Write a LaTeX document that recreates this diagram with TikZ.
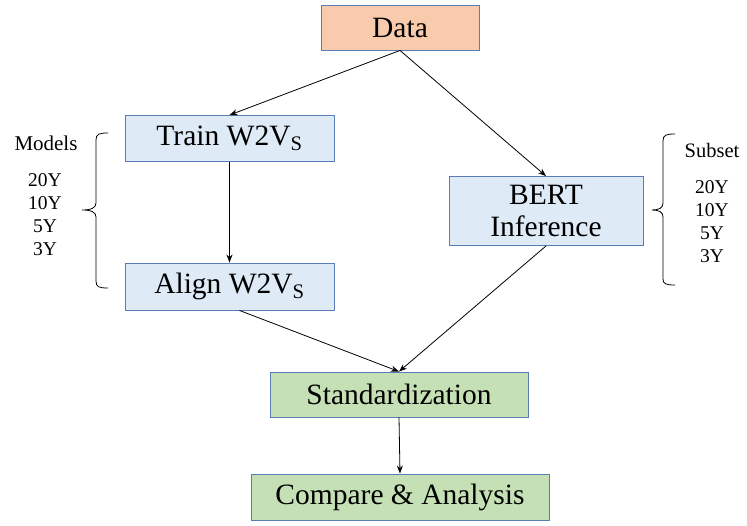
\documentclass[tikz,border=0pt]{standalone}
\usepackage{fontspec}
\setmainfont{Liberation Serif}
\usetikzlibrary{arrows.meta}
\definecolor{peach}{HTML}{F8CBAD}
\definecolor{lblue}{HTML}{DEEBF7}
\definecolor{lgreen}{HTML}{C5E0B4}
\definecolor{bord}{HTML}{5B7DB5}
\tikzset{
  box/.style={draw=bord, line width=0.9pt, inner sep=0pt, align=center,
    font=\fontsize{29.5}{31}\selectfont},
  arr/.style={-{Stealth[length=8pt,width=6pt]}, line width=0.8pt},
  side/.style={font=\fontsize{19.5}{23}\selectfont, align=center, inner sep=0pt},
  brc/.style={line width=0.8pt}
}
\begin{document}
\begin{tikzpicture}[x=1pt,y=-1pt]
\useasboundingbox (0,0) rectangle (747,525);
\node[box, fill=peach, minimum width=158pt, minimum height=45pt] (data) at (400,27.5) {Data};
\node[box, fill=lblue, minimum width=209pt, minimum height=46pt] (train) at (229.5,138.5) {Train W2V\textsubscript{S}};
\node[box, fill=lblue, minimum width=209pt, minimum height=47pt] (align) at (229.5,286.5) {Align W2V\textsubscript{S}};
\node[box, fill=lblue, minimum width=194pt, minimum height=69pt, font=\fontsize{29.5}{32}\selectfont] (bert) at (546,211) {BERT\\Inference};
\node[box, fill=lgreen, minimum width=258pt, minimum height=45pt] (std) at (399,394.5) {Standardization};
\node[box, fill=lgreen, minimum width=298pt, minimum height=46pt] (cmp) at (400,497) {Compare \& Analysis};

\draw[arr] (data.south) -- (train.north);
\draw[arr] (data.south) -- (bert.north);
\draw[arr] (train.south) -- (align.north);
\draw[arr] ([xshift=10pt]align.south) -- (std.north);
\draw[arr] (bert.south) -- (std.north);
\draw[arr] (std.south) -- (cmp.north);

\node[side, font=\fontsize{21}{23}\selectfont] (models) at (46,143) {Models};
\node[side] (lyears) at (45,215) {20Y\\10Y\\5Y\\3Y};
\node[side, font=\fontsize{20.5}{23}\selectfont] (subset) at (712,150) {Subset};
\node[side] (ryears) at (712,222) {20Y\\10Y\\5Y\\3Y};

\draw[brc] (108,133) .. controls (99,133) and (96,134) .. (96,140) -- (96,203)
  .. controls (96,208) and (91,210) .. (82,210)
  .. controls (91,210) and (96,212) .. (96,217) -- (96,281)
  .. controls (96,287) and (99,288) .. (108,288);
\draw[brc] (675,134) .. controls (666,134) and (663,135) .. (663,141) -- (663,203)
  .. controls (663,208) and (659,210) .. (652,210)
  .. controls (659,210) and (663,212) .. (663,217) -- (663,279)
  .. controls (663,284) and (666,285) .. (675,285);
\end{tikzpicture}
\end{document}
